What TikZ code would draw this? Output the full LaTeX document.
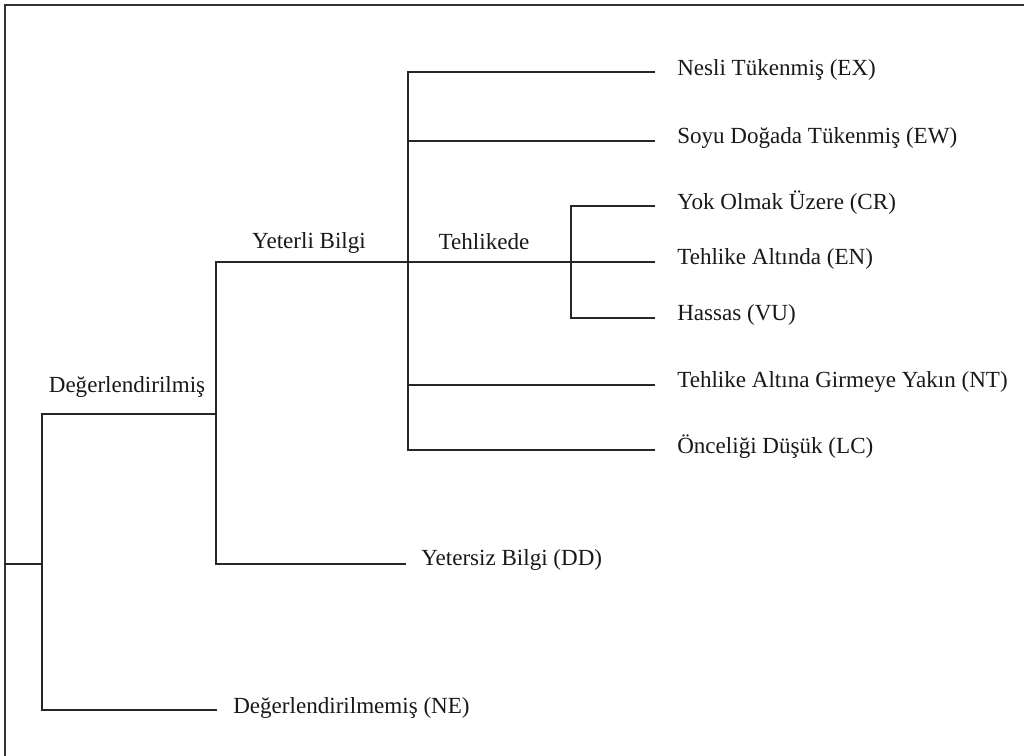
\documentclass[tikz,border=0pt]{standalone}
\usepackage{fontspec}
\setmainfont{Liberation Serif}
\begin{document}
\begin{tikzpicture}[x=0.75pt,y=-0.75pt,
  link/.style={draw=black!85,line width=1.3pt,line cap=rect},
  lbl/.style={inner sep=0pt,font=\fontsize{17.3pt}{20pt}\selectfont,text=black!90},
  leaf/.style={lbl,anchor=west}]
\useasboundingbox (0,0) rectangle (1024,756);
\fill[white] (0,0) rectangle (1024,756);
% frame
\coordinate (fTL) at (5,5);
\coordinate (fTR) at (1024,5);
\coordinate (fBL) at (5,756);
\draw[black!80,line width=1.6pt] (fBL) -- (fTL) -- (fTR);
% junctions
\coordinate (r0) at (5,564);
\coordinate (j1) at (42,564);
\coordinate (j1t) at (42,414);
\coordinate (j1b) at (42,710);
\coordinate (j2) at (216,414);
\coordinate (j2t) at (216,262);
\coordinate (j2b) at (216,564);
\coordinate (j3) at (408,262);
\coordinate (j3t) at (408,72);
\coordinate (j3e) at (408,141);
\coordinate (j3n) at (408,385);
\coordinate (j3l) at (408,450);
\coordinate (j4) at (571,262);
\coordinate (j4t) at (571,206);
\coordinate (j4b) at (571,318);
% end points
\coordinate (eEX) at (654,72);
\coordinate (eEW) at (654,141);
\coordinate (eCR) at (654,206);
\coordinate (eEN) at (654,262);
\coordinate (eVU) at (654,318);
\coordinate (eNT) at (654,385);
\coordinate (eLC) at (654,450);
\coordinate (eDD) at (405,564);
\coordinate (eNE) at (216,710);
% labels
\node[lbl] (deg) at (127,387) {Değerlendirilmiş};
\node[lbl] (yet) at (309,243) {Yeterli Bilgi};
\node[lbl] (teh) at (484,242) {Tehlikede};
\node[leaf] (EX) at (677,70) {Nesli Tükenmiş (EX)};
\node[leaf] (EW) at (677,138) {Soyu Doğada Tükenmiş (EW)};
\node[leaf] (CR) at (677,203) {Yok Olmak Üzere (CR)};
\node[leaf] (EN) at (677,259) {Tehlike Altında (EN)};
\node[leaf] (VU) at (677,315) {Hassas (VU)};
\node[leaf] (NT) at (677,382) {Tehlike Altına Girmeye Yakın (NT)};
\node[leaf] (LC) at (677,447) {Önceliği Düşük (LC)};
\node[leaf] (DD) at (421,560) {Yetersiz Bilgi (DD)};
\node[leaf] (NE) at (233,708) {Değerlendirilmemiş (NE)};
% connectors
\draw[link] (r0) -- (j1);
\draw[link] (j1t) -- (j1b);
\draw[link] (j1t) -- (j2);
\draw[link] (j1b) -- (eNE);
\draw[link] (j2t) -- (j2b);
\draw[link] (j2b) -- (eDD);
\draw[link] (j2t) -- (j3) -- (j4) -- (eEN);
\draw[link] (j3t) -- (j3l);
\draw[link] (j3t) -- (eEX);
\draw[link] (j3e) -- (eEW);
\draw[link] (j3n) -- (eNT);
\draw[link] (j3l) -- (eLC);
\draw[link] (j4t) -- (j4b);
\draw[link] (j4t) -- (eCR);
\draw[link] (j4b) -- (eVU);
\end{tikzpicture}
\end{document}
